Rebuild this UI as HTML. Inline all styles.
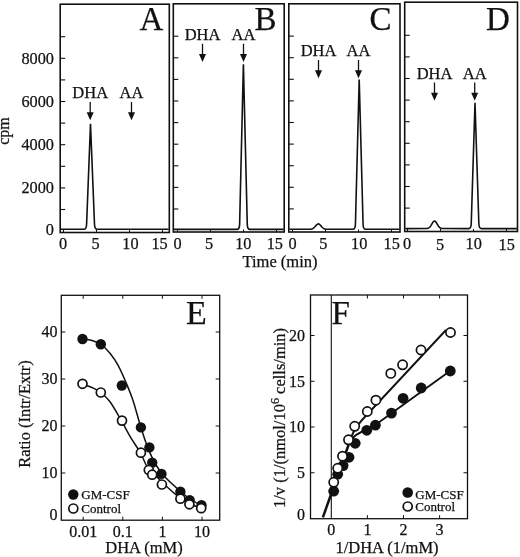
<!DOCTYPE html><html><head><meta charset="utf-8"><title>Figure</title><style>html,body{margin:0;padding:0;background:#fff}svg{display:block}text{font-family:"Liberation Serif","DejaVu Serif",serif;fill:#111;stroke:#111;stroke-width:0.25px}</style></head><body>
<svg width="520" height="557" viewBox="0 0 520 557">
<rect width="520" height="557" fill="#fff"/>
<rect x="60.2" y="4.2" width="109.10000000000001" height="228.3" fill="none" stroke="#111" stroke-width="1.6"/>
<line x1="60.20" y1="209.50" x2="65.20" y2="209.50" stroke="#111" stroke-width="1.1"/>
<line x1="60.20" y1="187.90" x2="65.20" y2="187.90" stroke="#111" stroke-width="1.1"/>
<line x1="60.20" y1="166.30" x2="65.20" y2="166.30" stroke="#111" stroke-width="1.1"/>
<line x1="60.20" y1="144.70" x2="65.20" y2="144.70" stroke="#111" stroke-width="1.1"/>
<line x1="60.20" y1="123.10" x2="65.20" y2="123.10" stroke="#111" stroke-width="1.1"/>
<line x1="60.20" y1="101.50" x2="65.20" y2="101.50" stroke="#111" stroke-width="1.1"/>
<line x1="60.20" y1="79.90" x2="65.20" y2="79.90" stroke="#111" stroke-width="1.1"/>
<line x1="60.20" y1="58.30" x2="65.20" y2="58.30" stroke="#111" stroke-width="1.1"/>
<line x1="60.20" y1="36.70" x2="65.20" y2="36.70" stroke="#111" stroke-width="1.1"/>
<path d="M60.80 229.30 L84.00 229.30 Q86.40 229.30 86.61 224.02 L90.50 123.75 L94.49 224.02 Q94.70 229.30 97.10 229.30 L168.70 229.30" fill="none" stroke="#111" stroke-width="1.6" stroke-linejoin="miter" stroke-miterlimit="20"/>
<line x1="63.50" y1="232.50" x2="63.50" y2="230.00" stroke="#111" stroke-width="1.0"/>
<text x="63" y="248.8" font-size="16.3" text-anchor="middle">0</text>
<line x1="96.50" y1="232.50" x2="96.50" y2="230.00" stroke="#111" stroke-width="1.0"/>
<text x="95.5" y="248.8" font-size="16.3" text-anchor="middle">5</text>
<line x1="129.50" y1="232.50" x2="129.50" y2="230.00" stroke="#111" stroke-width="1.0"/>
<text x="130.5" y="248.8" font-size="16.3" text-anchor="middle">10</text>
<line x1="162.50" y1="232.50" x2="162.50" y2="230.00" stroke="#111" stroke-width="1.0"/>
<text x="159.6" y="248.8" font-size="16.3" text-anchor="middle">15</text>
<text x="151.5" y="30.3" font-size="33" text-anchor="middle">A</text>
<text x="90.2" y="98" font-size="16.5" text-anchor="middle">DHA</text>
<line x1="90.20" y1="102.00" x2="90.20" y2="115.50" stroke="#111" stroke-width="1.3"/>
<path d="M86.70 112.20 L93.70 112.20 L90.20 120.20 Z" fill="#111"/>
<text x="131.5" y="98" font-size="16.5" text-anchor="middle">AA</text>
<line x1="131.50" y1="102.00" x2="131.50" y2="115.50" stroke="#111" stroke-width="1.3"/>
<path d="M128.00 112.20 L135.00 112.20 L131.50 120.20 Z" fill="#111"/>
<rect x="173.3" y="3.8" width="110.89999999999998" height="228.2" fill="none" stroke="#111" stroke-width="1.6"/>
<line x1="173.30" y1="209.00" x2="178.30" y2="209.00" stroke="#111" stroke-width="1.1"/>
<line x1="173.30" y1="187.40" x2="178.30" y2="187.40" stroke="#111" stroke-width="1.1"/>
<line x1="173.30" y1="165.80" x2="178.30" y2="165.80" stroke="#111" stroke-width="1.1"/>
<line x1="173.30" y1="144.20" x2="178.30" y2="144.20" stroke="#111" stroke-width="1.1"/>
<line x1="173.30" y1="122.60" x2="178.30" y2="122.60" stroke="#111" stroke-width="1.1"/>
<line x1="173.30" y1="101.00" x2="178.30" y2="101.00" stroke="#111" stroke-width="1.1"/>
<line x1="173.30" y1="79.40" x2="178.30" y2="79.40" stroke="#111" stroke-width="1.1"/>
<line x1="173.30" y1="57.80" x2="178.30" y2="57.80" stroke="#111" stroke-width="1.1"/>
<line x1="173.30" y1="36.20" x2="178.30" y2="36.20" stroke="#111" stroke-width="1.1"/>
<path d="M173.90 229.40 L237.10 229.40 Q239.50 229.40 239.62 224.12 L243.40 64.28 L247.27 224.12 Q247.40 229.40 249.80 229.40 L283.60 229.40" fill="none" stroke="#111" stroke-width="1.6" stroke-linejoin="miter" stroke-miterlimit="20"/>
<line x1="177.50" y1="232.00" x2="177.50" y2="229.50" stroke="#111" stroke-width="1.0"/>
<text x="177.5" y="248.8" font-size="16.3" text-anchor="middle">0</text>
<line x1="210.50" y1="232.00" x2="210.50" y2="229.50" stroke="#111" stroke-width="1.0"/>
<text x="209" y="248.8" font-size="16.3" text-anchor="middle">5</text>
<line x1="243.50" y1="232.00" x2="243.50" y2="229.50" stroke="#111" stroke-width="1.0"/>
<text x="243.3" y="248.8" font-size="16.3" text-anchor="middle">10</text>
<line x1="276.50" y1="232.00" x2="276.50" y2="229.50" stroke="#111" stroke-width="1.0"/>
<text x="274.8" y="248.8" font-size="16.3" text-anchor="middle">15</text>
<text x="265.5" y="30.3" font-size="33" text-anchor="middle">B</text>
<text x="202.5" y="40" font-size="16.5" text-anchor="middle">DHA</text>
<line x1="202.50" y1="43.75" x2="202.50" y2="57.25" stroke="#111" stroke-width="1.3"/>
<path d="M199.00 53.95 L206.00 53.95 L202.50 61.95 Z" fill="#111"/>
<text x="243.5" y="40" font-size="16.5" text-anchor="middle">AA</text>
<line x1="243.50" y1="43.75" x2="243.50" y2="57.25" stroke="#111" stroke-width="1.3"/>
<path d="M240.00 53.95 L247.00 53.95 L243.50 61.95 Z" fill="#111"/>
<rect x="288.8" y="3.8" width="111.19999999999999" height="228.2" fill="none" stroke="#111" stroke-width="1.6"/>
<line x1="288.80" y1="208.90" x2="293.80" y2="208.90" stroke="#111" stroke-width="1.1"/>
<line x1="288.80" y1="187.30" x2="293.80" y2="187.30" stroke="#111" stroke-width="1.1"/>
<line x1="288.80" y1="165.70" x2="293.80" y2="165.70" stroke="#111" stroke-width="1.1"/>
<line x1="288.80" y1="144.10" x2="293.80" y2="144.10" stroke="#111" stroke-width="1.1"/>
<line x1="288.80" y1="122.50" x2="293.80" y2="122.50" stroke="#111" stroke-width="1.1"/>
<line x1="288.80" y1="100.90" x2="293.80" y2="100.90" stroke="#111" stroke-width="1.1"/>
<line x1="288.80" y1="79.30" x2="293.80" y2="79.30" stroke="#111" stroke-width="1.1"/>
<line x1="288.80" y1="57.70" x2="293.80" y2="57.70" stroke="#111" stroke-width="1.1"/>
<line x1="288.80" y1="36.10" x2="293.80" y2="36.10" stroke="#111" stroke-width="1.1"/>
<path d="M289.40 229.30 L309.43 229.27 L309.93 229.24 L310.43 229.20 L310.93 229.14 L311.43 229.05 L311.93 228.91 L312.43 228.73 L312.93 228.47 L313.43 228.15 L313.93 227.74 L314.43 227.26 L314.93 226.72 L315.43 226.14 L315.93 225.55 L316.43 225.00 L316.93 224.52 L317.43 224.16 L317.93 223.95 L318.43 223.91 L318.93 224.04 L319.43 224.33 L319.93 224.76 L320.43 225.28 L320.93 225.86 L321.43 226.44 L321.93 227.01 L322.43 227.52 L322.93 227.96 L323.43 228.33 L323.93 228.61 L324.43 228.83 L324.93 228.99 L325.43 229.10 L325.93 229.18 L326.43 229.23 L326.93 229.26 L352.90 229.30 Q355.30 229.30 355.44 224.02 L359.20 79.52 L363.06 224.02 Q363.20 229.30 365.60 229.30 L399.40 229.30" fill="none" stroke="#111" stroke-width="1.6" stroke-linejoin="miter" stroke-miterlimit="20"/>
<line x1="292.50" y1="232.00" x2="292.50" y2="229.50" stroke="#111" stroke-width="1.0"/>
<text x="292.5" y="248.8" font-size="16.3" text-anchor="middle">0</text>
<line x1="325.50" y1="232.00" x2="325.50" y2="229.50" stroke="#111" stroke-width="1.0"/>
<text x="323.3" y="248.8" font-size="16.3" text-anchor="middle">5</text>
<line x1="358.50" y1="232.00" x2="358.50" y2="229.50" stroke="#111" stroke-width="1.0"/>
<text x="359.2" y="248.8" font-size="16.3" text-anchor="middle">10</text>
<line x1="391.50" y1="232.00" x2="391.50" y2="229.50" stroke="#111" stroke-width="1.0"/>
<text x="391.7" y="248.8" font-size="16.3" text-anchor="middle">15</text>
<text x="380.5" y="30.3" font-size="33" text-anchor="middle">C</text>
<text x="318.5" y="55.7" font-size="16.5" text-anchor="middle">DHA</text>
<line x1="318.50" y1="60.00" x2="318.50" y2="73.50" stroke="#111" stroke-width="1.3"/>
<path d="M315.00 70.20 L322.00 70.20 L318.50 78.20 Z" fill="#111"/>
<text x="358.5" y="55.7" font-size="16.5" text-anchor="middle">AA</text>
<line x1="358.50" y1="60.00" x2="358.50" y2="73.50" stroke="#111" stroke-width="1.3"/>
<path d="M355.00 70.20 L362.00 70.20 L358.50 78.20 Z" fill="#111"/>
<rect x="404.7" y="2.2" width="112.80000000000001" height="229.3" fill="none" stroke="#111" stroke-width="1.6"/>
<line x1="404.70" y1="208.10" x2="409.70" y2="208.10" stroke="#111" stroke-width="1.1"/>
<line x1="404.70" y1="186.50" x2="409.70" y2="186.50" stroke="#111" stroke-width="1.1"/>
<line x1="404.70" y1="164.90" x2="409.70" y2="164.90" stroke="#111" stroke-width="1.1"/>
<line x1="404.70" y1="143.30" x2="409.70" y2="143.30" stroke="#111" stroke-width="1.1"/>
<line x1="404.70" y1="121.70" x2="409.70" y2="121.70" stroke="#111" stroke-width="1.1"/>
<line x1="404.70" y1="100.10" x2="409.70" y2="100.10" stroke="#111" stroke-width="1.1"/>
<line x1="404.70" y1="78.50" x2="409.70" y2="78.50" stroke="#111" stroke-width="1.1"/>
<line x1="404.70" y1="56.90" x2="409.70" y2="56.90" stroke="#111" stroke-width="1.1"/>
<line x1="404.70" y1="35.30" x2="409.70" y2="35.30" stroke="#111" stroke-width="1.1"/>
<path d="M405.30 228.60 L426.05 228.55 L426.55 228.52 L427.05 228.46 L427.55 228.36 L428.05 228.22 L428.55 228.00 L429.05 227.70 L429.55 227.29 L430.05 226.77 L430.55 226.13 L431.05 225.38 L431.55 224.55 L432.05 223.68 L432.55 222.84 L433.05 222.10 L433.55 221.51 L434.05 221.15 L434.55 221.04 L435.05 221.20 L435.55 221.62 L436.05 222.24 L436.55 223.01 L437.05 223.86 L437.55 224.72 L438.05 225.54 L438.55 226.27 L439.05 226.89 L439.55 227.39 L440.05 227.77 L440.55 228.05 L441.05 228.25 L441.55 228.39 L442.05 228.47 L442.55 228.53 L468.70 228.60 Q471.10 228.60 471.26 223.32 L475.00 102.69 L478.83 223.32 Q479.00 228.60 481.40 228.60 L516.90 228.60" fill="none" stroke="#111" stroke-width="1.6" stroke-linejoin="miter" stroke-miterlimit="20"/>
<line x1="407.50" y1="231.50" x2="407.50" y2="229.00" stroke="#111" stroke-width="1.0"/>
<text x="407" y="248.8" font-size="16.3" text-anchor="middle">0</text>
<line x1="440.50" y1="231.50" x2="440.50" y2="229.00" stroke="#111" stroke-width="1.0"/>
<text x="440" y="250.3" font-size="16.3" text-anchor="middle">5</text>
<line x1="473.50" y1="231.50" x2="473.50" y2="229.00" stroke="#111" stroke-width="1.0"/>
<text x="473.7" y="248.8" font-size="16.3" text-anchor="middle">10</text>
<line x1="506.50" y1="231.50" x2="506.50" y2="229.00" stroke="#111" stroke-width="1.0"/>
<text x="506.7" y="250.3" font-size="16.3" text-anchor="middle">15</text>
<text x="498" y="30.3" font-size="33" text-anchor="middle">D</text>
<text x="434.5" y="78.8" font-size="16.5" text-anchor="middle">DHA</text>
<line x1="434.50" y1="82.50" x2="434.50" y2="96.00" stroke="#111" stroke-width="1.3"/>
<path d="M431.00 92.70 L438.00 92.70 L434.50 100.70 Z" fill="#111"/>
<text x="474.7" y="78.8" font-size="16.5" text-anchor="middle">AA</text>
<line x1="474.70" y1="82.50" x2="474.70" y2="96.00" stroke="#111" stroke-width="1.3"/>
<path d="M471.20 92.70 L478.20 92.70 L474.70 100.70 Z" fill="#111"/>
<text x="54" y="193.29999999999998" font-size="16.3" text-anchor="end">2000</text>
<text x="54" y="150.1" font-size="16.3" text-anchor="end">4000</text>
<text x="54" y="106.89999999999998" font-size="16.3" text-anchor="end">6000</text>
<text x="54" y="63.69999999999998" font-size="16.3" text-anchor="end">8000</text>
<text x="54" y="235.3" font-size="16.3" text-anchor="end">0</text>
<text x="9" y="131" font-size="16" text-anchor="middle" transform="rotate(-90 9 131)">cpm</text>
<text x="280" y="266.5" font-size="16.5" text-anchor="middle">Time (min)</text>
<rect x="61.3" y="295.3" width="158.39999999999998" height="224.90000000000003" fill="none" stroke="#111" stroke-width="1.3"/>
<line x1="83.20" y1="295.30" x2="83.20" y2="298.80" stroke="#111" stroke-width="1.0"/>
<line x1="83.20" y1="520.20" x2="83.20" y2="516.70" stroke="#111" stroke-width="1.0"/>
<line x1="122.80" y1="295.30" x2="122.80" y2="298.80" stroke="#111" stroke-width="1.0"/>
<line x1="122.80" y1="520.20" x2="122.80" y2="516.70" stroke="#111" stroke-width="1.0"/>
<line x1="162.40" y1="295.30" x2="162.40" y2="298.80" stroke="#111" stroke-width="1.0"/>
<line x1="162.40" y1="520.20" x2="162.40" y2="516.70" stroke="#111" stroke-width="1.0"/>
<line x1="202.00" y1="295.30" x2="202.00" y2="298.80" stroke="#111" stroke-width="1.0"/>
<line x1="202.00" y1="520.20" x2="202.00" y2="516.70" stroke="#111" stroke-width="1.0"/>
<line x1="61.30" y1="473.00" x2="65.30" y2="473.00" stroke="#111" stroke-width="1.0"/>
<line x1="219.70" y1="473.00" x2="215.70" y2="473.00" stroke="#111" stroke-width="1.0"/>
<text x="57.5" y="478.3" font-size="16" text-anchor="end">10</text>
<line x1="61.30" y1="426.00" x2="65.30" y2="426.00" stroke="#111" stroke-width="1.0"/>
<line x1="219.70" y1="426.00" x2="215.70" y2="426.00" stroke="#111" stroke-width="1.0"/>
<text x="57.5" y="431.3" font-size="16" text-anchor="end">20</text>
<line x1="61.30" y1="379.00" x2="65.30" y2="379.00" stroke="#111" stroke-width="1.0"/>
<line x1="219.70" y1="379.00" x2="215.70" y2="379.00" stroke="#111" stroke-width="1.0"/>
<text x="57.5" y="384.3" font-size="16" text-anchor="end">30</text>
<line x1="61.30" y1="332.00" x2="65.30" y2="332.00" stroke="#111" stroke-width="1.0"/>
<line x1="219.70" y1="332.00" x2="215.70" y2="332.00" stroke="#111" stroke-width="1.0"/>
<text x="57.5" y="337.3" font-size="16" text-anchor="end">40</text>
<text x="57.5" y="519.5" font-size="16" text-anchor="end">0</text>
<text x="83.2" y="536.5" font-size="16" text-anchor="middle">0.01</text>
<text x="122.8" y="536.5" font-size="16" text-anchor="middle">0.1</text>
<text x="162.4" y="536.5" font-size="16" text-anchor="middle">1</text>
<text x="202.0" y="536.5" font-size="16" text-anchor="middle">10</text>
<text x="144" y="553" font-size="16.5" text-anchor="middle">DHA (mM)</text>
<text x="30" y="414" font-size="16.5" text-anchor="middle" transform="rotate(-90 30 414)">Ratio (Intr/Extr)</text>
<text x="196.3" y="324.3" font-size="34" text-anchor="middle">E</text>
<path d="M82.5 338.5 C84.1 338.8 89.0 339.6 92.0 340.5 C95.0 341.4 97.6 341.9 100.6 344.0 C103.6 346.1 107.1 349.7 110.0 353.3 C112.9 356.9 115.4 360.4 118.1 365.4 C120.8 370.3 123.7 377.1 126.2 383.0 C128.7 388.9 130.6 393.3 133.0 400.5 C135.4 407.7 138.0 418.1 140.5 426.0 C143.0 433.9 145.2 441.1 147.8 447.6 C150.4 454.1 153.1 460.1 156.0 465.0 C158.9 469.9 161.0 472.7 165.0 477.0 C169.0 481.3 175.8 487.3 180.0 491.0 C184.2 494.7 186.4 496.6 190.0 499.0 C193.6 501.4 199.6 504.4 201.5 505.5" fill="none" stroke="#111" stroke-width="1.5"/>
<path d="M82.5 384.3 C84.1 384.8 89.0 386.1 92.0 387.5 C95.0 388.9 97.6 390.0 100.6 392.4 C103.6 394.8 106.5 397.1 110.0 401.8 C113.5 406.5 118.0 414.9 121.4 420.7 C124.8 426.5 127.1 431.5 130.3 436.9 C133.5 442.3 137.6 447.8 140.5 453.0 C143.4 458.2 145.2 464.1 147.8 467.9 C150.4 471.7 153.1 473.1 156.0 476.0 C158.9 478.9 161.0 481.3 165.0 485.0 C169.0 488.7 175.8 494.8 180.0 498.0 C184.2 501.2 186.5 502.3 190.0 504.0 C193.5 505.7 199.2 507.3 201.0 508.0" fill="none" stroke="#111" stroke-width="1.5"/>
<circle cx="82.5" cy="339.0" r="5.2" fill="#111"/>
<circle cx="100.8" cy="344.2" r="5.2" fill="#111"/>
<circle cx="121.8" cy="385.5" r="5.2" fill="#111"/>
<circle cx="140.9" cy="427.4" r="5.2" fill="#111"/>
<circle cx="149.4" cy="447.4" r="5.2" fill="#111"/>
<circle cx="152.2" cy="462.6" r="5.2" fill="#111"/>
<circle cx="161.5" cy="473.9" r="5.2" fill="#111"/>
<circle cx="180.4" cy="491.7" r="5.2" fill="#111"/>
<circle cx="189.7" cy="500.1" r="5.2" fill="#111"/>
<circle cx="201.5" cy="505.2" r="5.2" fill="#111"/>
<circle cx="82.5" cy="383.8" r="4.5" fill="#fff" stroke="#111" stroke-width="1.7"/>
<circle cx="100.8" cy="392.5" r="4.5" fill="#fff" stroke="#111" stroke-width="1.7"/>
<circle cx="122.0" cy="420.6" r="4.5" fill="#fff" stroke="#111" stroke-width="1.7"/>
<circle cx="140.9" cy="452.7" r="4.5" fill="#fff" stroke="#111" stroke-width="1.7"/>
<circle cx="148.8" cy="470.0" r="4.5" fill="#fff" stroke="#111" stroke-width="1.7"/>
<circle cx="152.2" cy="474.7" r="4.5" fill="#fff" stroke="#111" stroke-width="1.7"/>
<circle cx="161.9" cy="484.5" r="4.5" fill="#fff" stroke="#111" stroke-width="1.7"/>
<circle cx="180.4" cy="498.7" r="4.5" fill="#fff" stroke="#111" stroke-width="1.7"/>
<circle cx="189.4" cy="504.3" r="4.5" fill="#fff" stroke="#111" stroke-width="1.7"/>
<circle cx="201.2" cy="508.2" r="4.5" fill="#fff" stroke="#111" stroke-width="1.7"/>
<circle cx="73.3" cy="494.5" r="5.2" fill="#111"/>
<circle cx="73.3" cy="508.5" r="4.5" fill="#fff" stroke="#111" stroke-width="1.7"/>
<text x="81.3" y="499.3" font-size="13" text-anchor="start">GM-CSF</text>
<text x="81.3" y="512.8" font-size="13" text-anchor="start">Control</text>
<rect x="310.5" y="295" width="157.0" height="223.70000000000005" fill="none" stroke="#111" stroke-width="1.3"/>
<line x1="331.30" y1="295.00" x2="331.30" y2="518.70" stroke="#111" stroke-width="1.1"/>
<line x1="367.40" y1="295.00" x2="367.40" y2="298.50" stroke="#111" stroke-width="1.0"/>
<line x1="367.40" y1="518.70" x2="367.40" y2="515.20" stroke="#111" stroke-width="1.0"/>
<line x1="403.50" y1="295.00" x2="403.50" y2="298.50" stroke="#111" stroke-width="1.0"/>
<line x1="403.50" y1="518.70" x2="403.50" y2="515.20" stroke="#111" stroke-width="1.0"/>
<line x1="439.60" y1="295.00" x2="439.60" y2="298.50" stroke="#111" stroke-width="1.0"/>
<line x1="439.60" y1="518.70" x2="439.60" y2="515.20" stroke="#111" stroke-width="1.0"/>
<line x1="310.50" y1="472.75" x2="314.50" y2="472.75" stroke="#111" stroke-width="1.0"/>
<line x1="467.50" y1="472.75" x2="463.50" y2="472.75" stroke="#111" stroke-width="1.0"/>
<text x="305" y="478.05" font-size="16" text-anchor="end">5</text>
<line x1="310.50" y1="427.00" x2="314.50" y2="427.00" stroke="#111" stroke-width="1.0"/>
<line x1="467.50" y1="427.00" x2="463.50" y2="427.00" stroke="#111" stroke-width="1.0"/>
<text x="305" y="432.3" font-size="16" text-anchor="end">10</text>
<line x1="310.50" y1="381.25" x2="314.50" y2="381.25" stroke="#111" stroke-width="1.0"/>
<line x1="467.50" y1="381.25" x2="463.50" y2="381.25" stroke="#111" stroke-width="1.0"/>
<text x="305" y="386.55" font-size="16" text-anchor="end">15</text>
<line x1="310.50" y1="335.50" x2="314.50" y2="335.50" stroke="#111" stroke-width="1.0"/>
<line x1="467.50" y1="335.50" x2="463.50" y2="335.50" stroke="#111" stroke-width="1.0"/>
<text x="305" y="340.8" font-size="16" text-anchor="end">20</text>
<text x="305" y="519.5" font-size="16" text-anchor="end">0</text>
<text x="331.3" y="535" font-size="16" text-anchor="middle">0</text>
<text x="367.4" y="535" font-size="16" text-anchor="middle">1</text>
<text x="403.5" y="535" font-size="16" text-anchor="middle">2</text>
<text x="439.6" y="535" font-size="16" text-anchor="middle">3</text>
<text x="387" y="553" font-size="16.5" text-anchor="middle">1/DHA (1/mM)</text>
<text x="285" y="418" font-size="16.5" text-anchor="middle" transform="rotate(-90 285 418)">1/v (1/(nmol/10<tspan font-size="12" dy="-6">6</tspan><tspan dy="6"> cells/min)</tspan></text>
<text x="340.7" y="324" font-size="33" text-anchor="middle">F</text>
<path d="M322.9 517.3 L351 438" fill="none" stroke="#111" stroke-width="2.5"/>
<path d="M349 443 Q353 430 362 420 L446 330" fill="none" stroke="#111" stroke-width="1.9"/>
<path d="M350 441 Q355 434 366 430 L378 423 L450 371" fill="none" stroke="#111" stroke-width="1.9"/>
<circle cx="450.3" cy="371.0" r="5.4" fill="#111"/>
<circle cx="421.2" cy="388.0" r="5.4" fill="#111"/>
<circle cx="403.1" cy="398.3" r="5.4" fill="#111"/>
<circle cx="391.5" cy="413.1" r="5.4" fill="#111"/>
<circle cx="375.4" cy="425.2" r="5.4" fill="#111"/>
<circle cx="366.8" cy="430.3" r="5.4" fill="#111"/>
<circle cx="355.2" cy="443.3" r="5.4" fill="#111"/>
<circle cx="349.0" cy="457.3" r="5.4" fill="#111"/>
<circle cx="343.1" cy="465.6" r="5.4" fill="#111"/>
<circle cx="337.7" cy="474.2" r="5.4" fill="#111"/>
<circle cx="333.7" cy="491.2" r="5.4" fill="#111"/>
<circle cx="450.5" cy="332.5" r="4.6" fill="#fff" stroke="#111" stroke-width="1.7"/>
<circle cx="421.0" cy="350.0" r="4.6" fill="#fff" stroke="#111" stroke-width="1.7"/>
<circle cx="402.6" cy="364.8" r="4.6" fill="#fff" stroke="#111" stroke-width="1.7"/>
<circle cx="390.8" cy="373.4" r="4.6" fill="#fff" stroke="#111" stroke-width="1.7"/>
<circle cx="375.9" cy="400.2" r="4.6" fill="#fff" stroke="#111" stroke-width="1.7"/>
<circle cx="367.3" cy="411.5" r="4.6" fill="#fff" stroke="#111" stroke-width="1.7"/>
<circle cx="354.7" cy="426.3" r="4.6" fill="#fff" stroke="#111" stroke-width="1.7"/>
<circle cx="348.5" cy="439.8" r="4.6" fill="#fff" stroke="#111" stroke-width="1.7"/>
<circle cx="342.5" cy="456.2" r="4.6" fill="#fff" stroke="#111" stroke-width="1.7"/>
<circle cx="337.7" cy="468.3" r="4.6" fill="#fff" stroke="#111" stroke-width="1.7"/>
<circle cx="333.7" cy="482.3" r="4.6" fill="#fff" stroke="#111" stroke-width="1.7"/>
<circle cx="407.7" cy="492.5" r="5.3" fill="#111"/>
<circle cx="407.7" cy="506.5" r="4.5" fill="#fff" stroke="#111" stroke-width="1.7"/>
<text x="415.3" y="498.7" font-size="13" text-anchor="start">GM-CSF</text>
<text x="415.3" y="511.0" font-size="13" text-anchor="start">Control</text>
</svg></body></html>
